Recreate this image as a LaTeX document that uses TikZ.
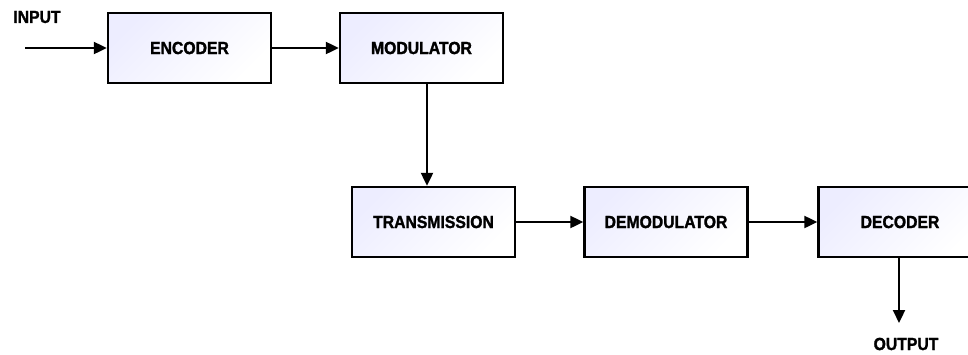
\documentclass[tikz,border=0pt]{standalone}
\usepackage{fontspec}
\setmainfont{Liberation Sans}[BoldFeatures={FakeBold=1.6, FakeStretch=0.9}]
\usetikzlibrary{arrows.meta}
\begin{document}
\begin{tikzpicture}[x=1pt,y=-1pt,
  block/.style={draw=black, line width=2.4pt, minimum width=163pt, minimum height=70pt,
    inner sep=0pt, top color=blue!7!white, bottom color=white, shading angle=45,
    font=\fontsize{17.5}{19}\selectfont\bfseries},
  flow/.style={line width=2.2pt, -{Triangle[length=13pt,width=12pt]}},
  lbl/.style={font=\fontsize{17.5}{19}\selectfont\bfseries, inner sep=0pt}]
\useasboundingbox (0,0) rectangle (968,354);
\begin{scope}
\clip (0,0) rectangle (968,354);
\node[block] (enc) at (189.5,48) {ENCODER};
\node[block] (mod) at (421.5,48) {MODULATOR};
\node[block] (tx) at (433.5,222) {TRANSMISSION};
\node[block] (dem) at (666,222) {DEMODULATOR};
\node[block] (dec) at (900,222) {DECODER};
\end{scope}
\node[lbl] (in) at (37,17) {INPUT};
\node[lbl] (out) at (906,344) {OUTPUT};
\coordinate (src) at (25,48);
\coordinate (sink) at (899,323);
\draw[flow] (src) -- (enc.west);
\draw[flow] (enc.east) -- (mod.west);
\draw[flow] (mod.south -| 427,0) -- (tx.north -| 427,0);
\draw[flow] (tx.east) -- (dem.west);
\draw[flow] (dem.east) -- (dec.west);
\draw[flow] (dec.south -| sink) -- (sink);
\end{tikzpicture}
\end{document}
